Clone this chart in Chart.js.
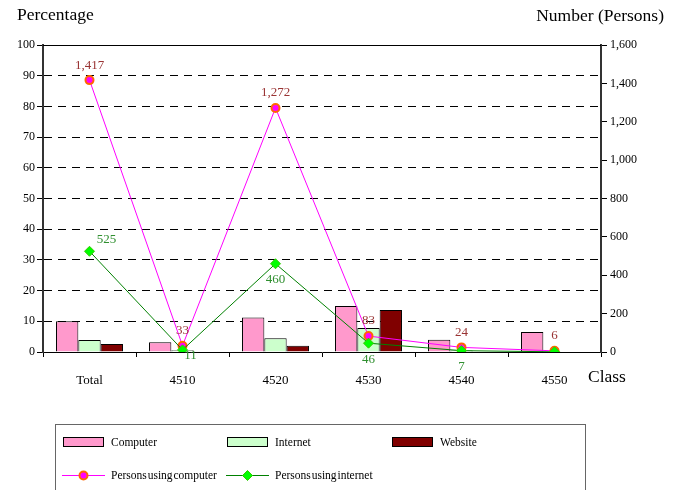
<!DOCTYPE html>
<html>
<head>
<meta charset="utf-8">
<script src="https://cdn.jsdelivr.net/npm/chart.js@4.4.0/dist/chart.umd.min.js"></script>
<style>
    body { margin: 0; background: #fff; }
    #wrap { position: relative; width: 680px; height: 490px; }
    #legend {
        position: absolute; left: 55px; top: 424px; width: 531px; height: 80px;
        border: 1px solid #666; box-sizing: border-box;
        font-family: "Liberation Serif", serif; font-size: 11.5px; word-spacing: -2px; color: #000;
    }
    .item { position: absolute; display: flex; align-items: center; height: 14px; white-space: nowrap; }
    .item canvas { margin-right: 6px; }
</style>
</head>
<body>
<div id="wrap">
    <canvas id="chart" width="680" height="490"></canvas>
    <div id="legend"></div>
</div>
<script>
const classes = ['Total', '4510', '4520', '4530', '4540', '4550'];
const computerPct = [10, 3.2, 11.2, 15, 4, 6.5];
const internetPct = [3.9, 0.6, 4.5, 7.8, 0.5, 0];
const websitePct = [2.6, 0, 2, 13.7, 0, 0];
const personsComputer = [1417, 33, 1272, 83, 24, 6];
const personsInternet = [525, 11, 460, 46, 7, 1];
const internetLabels = ['525', '11', '460', '46', '7', ''];
const pctTicks = [0, 10, 20, 30, 40, 50, 60, 70, 80, 90, 100];

const serif = '"Liberation Serif", "Times New Roman", serif';

// where each internet number sits relative to its point
const netPos = ['upright', 'downright', 'down', 'down', 'down', 'down'];

const extras = {
    id: 'extras',
    afterDraw(chart) {
        const ctx = chart.ctx;
        const a = chart.chartArea;
        ctx.save();
        // solid top line
        ctx.strokeStyle = '#000';
        ctx.lineWidth = 1;
        ctx.beginPath();
        ctx.moveTo(a.left, a.top + 0.5);
        ctx.lineTo(a.right, a.top + 0.5);
        ctx.stroke();

        ctx.fillStyle = '#000';
        ctx.font = '17.5px ' + serif;
        ctx.textBaseline = 'middle';
        ctx.textAlign = 'left';
        ctx.fillText('Percentage', 17, 15);
        ctx.textAlign = 'right';
        ctx.fillText('Number (Persons)', 664, 16);
        ctx.textAlign = 'left';
        ctx.fillText('Class', 588, 377);

        ctx.font = '13px ' + serif;
        ctx.textAlign = 'center';
        const m3 = chart.getDatasetMeta(3);
        m3.data.forEach((p, i) => {
            ctx.fillStyle = '#993333';
            ctx.fillText(personsComputer[i].toLocaleString('en-US'), p.x, p.y - 15);
        });
        const m4 = chart.getDatasetMeta(4);
        m4.data.forEach((p, i) => {
            if (!internetLabels[i]) return;
            ctx.fillStyle = '#2f8f2f';
            let x = p.x, y = p.y;
            if (netPos[i] === 'upright') { x += 17; y -= 12; }
            else if (netPos[i] === 'downright') { x += 8; y += 6; }
            else { y += 16; }
            ctx.fillText(internetLabels[i], x, y);
        });
        ctx.restore();
    }
};

const chart = new Chart(document.getElementById('chart'), {
    data: {
        labels: classes,
        datasets: [
            { type: 'bar', label: 'Computer', data: computerPct, yAxisID: 'y', backgroundColor: '#ff99cc', borderColor: '#000', borderWidth: 1, order: 2 },
            { type: 'bar', label: 'Internet', data: internetPct, yAxisID: 'y', backgroundColor: '#ccffcc', borderColor: '#000', borderWidth: 1, order: 2 },
            { type: 'bar', label: 'Website', data: websitePct, yAxisID: 'y', backgroundColor: '#800000', borderColor: '#000', borderWidth: 1, order: 2 },
            { type: 'line', label: 'Persons using computer', data: personsComputer, yAxisID: 'y1', borderColor: '#ff00ff', borderWidth: 1,
              pointStyle: 'circle', pointRadius: 4, pointBackgroundColor: '#ff00ff', pointBorderColor: '#ff6600', pointBorderWidth: 2, order: 1 },
            { type: 'line', label: 'Persons using internet', data: personsInternet, yAxisID: 'y1', borderColor: '#008000', borderWidth: 1,
              pointStyle: 'rectRot', pointRadius: 5, pointBackgroundColor: '#00ff00', pointBorderColor: '#33cc00', pointBorderWidth: 1, order: 0 }
        ]
    },
    options: {
        responsive: false,
        animation: false,
        layout: { padding: { top: 45, left: 0, right: 0, bottom: 0 } },
        datasets: { bar: { categoryPercentage: 0.72, barPercentage: 1 } },
        plugins: { legend: { display: false }, tooltip: { enabled: false } },
        scales: {
            x: {
                afterFit: s => { s.height = 138; },
                grid: { offset: true, drawOnChartArea: false, tickLength: 5, tickColor: '#000' },
                border: { color: '#000', width: 1 },
                ticks: { color: '#000', font: { family: serif, size: 13 }, padding: 16 }
            },
            y: {
                position: 'left',
                min: 0, max: 100,
                afterFit: s => { s.width = 43; },
                afterBuildTicks: s => { s.ticks = pctTicks.map(v => ({ value: v })); },
                grid: {
                    color: c => (c.tick && (c.tick.value === 0 || c.tick.value === 100)) ? 'rgba(0,0,0,0)' : '#000',
                    tickColor: '#000', tickLength: 6, lineWidth: 1
                },
                border: { color: '#333', width: 2, dash: [8, 6] },
                ticks: { color: '#000', font: { family: serif, size: 12 }, padding: 2 }
            },
            y1: {
                position: 'right',
                min: 0, max: 1600,
                afterFit: s => { s.width = 79; },
                grid: { drawOnChartArea: false, tickColor: '#000', tickLength: 6 },
                border: { color: '#333', width: 2 },
                ticks: { stepSize: 200, color: '#000', font: { family: serif, size: 12 }, padding: 3,
                    callback: v => v.toLocaleString('en-US') }
            }
        }
    },
    plugins: [extras]
});

// html legend built from the datasets
const spots = [[6, 17], [170, 17], [335, 17], [6, 50], [170, 50]];
const legend = document.getElementById('legend');
chart.data.datasets.forEach((ds, i) => {
    const item = document.createElement('div');
    item.className = 'item';
    item.style.left = spots[i][0] + 'px';
    item.style.top = (spots[i][1] - 7) + 'px';
    const c = document.createElement('canvas');
    c.width = 43; c.height = 14;
    const g = c.getContext('2d');
    if (ds.type === 'bar') {
        g.fillStyle = ds.backgroundColor;
        g.fillRect(1.5, 2.5, 40, 9);
        g.strokeStyle = '#000';
        g.strokeRect(1.5, 2.5, 40, 9);
    } else {
        g.strokeStyle = ds.borderColor;
        g.lineWidth = 1;
        g.beginPath(); g.moveTo(0, 7.5); g.lineTo(43, 7.5); g.stroke();
        g.fillStyle = ds.pointBackgroundColor;
        g.strokeStyle = ds.pointBorderColor;
        g.lineWidth = ds.pointBorderWidth;
        g.beginPath();
        if (ds.pointStyle === 'circle') {
            g.arc(21.5, 7.5, 4, 0, Math.PI * 2);
        } else {
            g.moveTo(21.5, 2.5); g.lineTo(26.5, 7.5); g.lineTo(21.5, 12.5); g.lineTo(16.5, 7.5); g.closePath();
        }
        g.fill(); g.stroke();
    }
    item.appendChild(c);
    const t = document.createElement('span');
    t.textContent = ds.label;
    item.appendChild(t);
    legend.appendChild(item);
});
</script>
</body>
</html>
